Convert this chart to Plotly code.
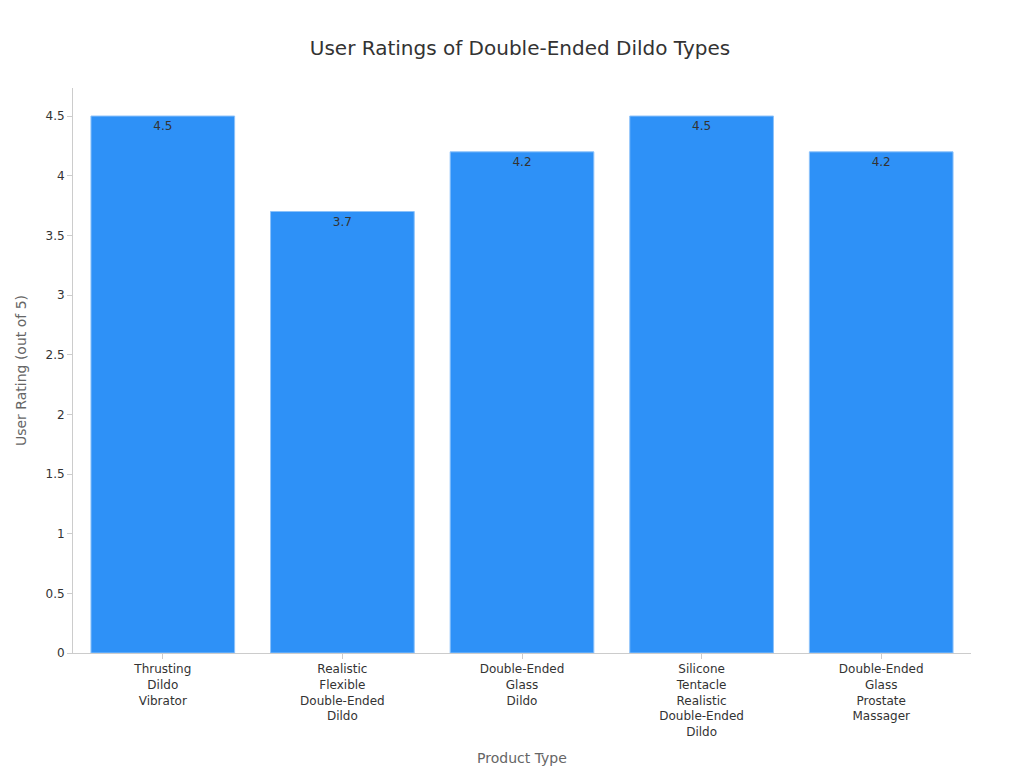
import plotly.graph_objects as go

categories = ["Thrusting<br>Dildo<br>Vibrator", "Realistic<br>Flexible<br>Double-Ended<br>Dildo",
              "Double-Ended<br>Glass<br>Dildo", "Silicone<br>Tentacle<br>Realistic<br>Double-Ended<br>Dildo",
              "Double-Ended<br>Glass<br>Prostate<br>Massager"]
ratings = [4.5, 3.7, 4.2, 4.5, 4.2]
rating_labels = ["4.5", "3.7", "4.2", "4.5", "4.2"]

fig = go.Figure(go.Bar(
    x=categories, y=ratings, text=rating_labels, textposition="inside",
    insidetextanchor="end", textangle=0,
    textfont=dict(color="#333333", size=12),
    marker=dict(color="#2e91f7", line=dict(color="#8cc2fa", width=1)),
    width=0.8,
))
fig.update_layout(
    width=1024, height=768,
    font=dict(family="DejaVu Sans", size=12, color="#333333"),
    title=dict(text="User Ratings of Double-Ended Dildo Types", x=0.5, y=0.957,
               xanchor="center", font=dict(size=20, color="#333333")),
    plot_bgcolor="white", paper_bgcolor="white",
    margin=dict(l=65, r=61, t=80, b=123),
    showlegend=False,
    xaxis=dict(title=dict(text="Product Type", font=dict(size=14, color="#666666")),
               showline=True, linecolor="#cccccc", ticks="outside", tickcolor="#cccccc",
               showgrid=False),
    yaxis=dict(title=dict(text="User Rating (out of 5)", font=dict(size=14, color="#666666")),
               range=[0, 4.735], dtick=0.5, showline=True, linecolor="#cccccc",
               ticks="outside", tickcolor="#cccccc", showgrid=False, zeroline=False),
)
fig.write_html("out.html")
